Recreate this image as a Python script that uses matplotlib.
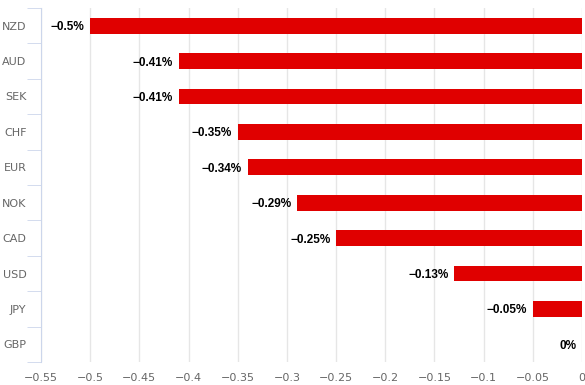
import matplotlib.pyplot as plt
import numpy as np

currencies = ["NZD", "AUD", "SEK", "CHF", "EUR", "NOK", "CAD", "USD", "JPY", "GBP"]
changes = [-0.5, -0.41, -0.41, -0.35, -0.34, -0.29, -0.25, -0.13, -0.05, 0.0]
x_ticks = [-0.55, -0.5, -0.45, -0.4, -0.35, -0.3, -0.25, -0.2, -0.15, -0.1, -0.05, 0]

fig = plt.figure(figsize=(5.85, 3.85), dpi=100)
ax = fig.add_axes([41 / 585, 1 - 362 / 385, 541 / 585, 354 / 385])

y = np.arange(len(currencies))
ax.barh(y, changes, height=0.45, color="#e00000", zorder=3)

# value labels just left of each bar end
for yi, v in zip(y, changes):
    txt = f"{v:g}%".replace("-", "\u2212")
    ax.annotate(txt, (v, yi), xytext=(-4, 0), textcoords="offset points",
                ha="right", va="center_baseline", fontsize=8.5, fontweight="bold",
                family=["Liberation Sans", "DejaVu Sans"], color="black", zorder=4)

ax.set_xlim(-0.55, 0)
ax.set_ylim(len(currencies) - 0.5, -0.5)
ax.set_xticks(x_ticks)
ax.set_xticklabels([f"{t:g}".replace("-", "\u2212") for t in x_ticks])
ax.set_yticks(y)
ax.set_yticklabels(currencies)
ax.set_yticks(np.arange(len(currencies) + 1) - 0.5, minor=True)

ax.grid(axis="x", color="#e6e6e6", linewidth=1, zorder=0)
for s in ["top", "right", "bottom"]:
    ax.spines[s].set_visible(False)
ax.spines["left"].set_color("#ccd6eb")

ax.tick_params(axis="x", length=0, colors="#666666", labelsize=8, pad=8)
ax.tick_params(axis="y", which="major", length=0, colors="#666666", labelsize=8, pad=10.5)
ax.tick_params(axis="y", which="minor", length=10, color="#ccd6eb")

fig.savefig("out.png", dpi=100)
